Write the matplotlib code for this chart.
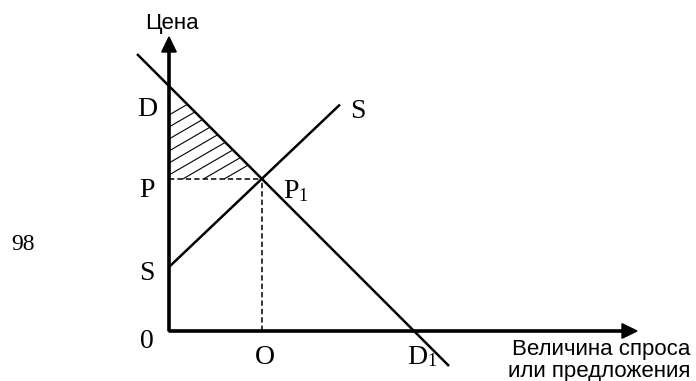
import numpy as np
import matplotlib
matplotlib.use("Agg")
import matplotlib.pyplot as plt

# demand: P = d_int + d_slope * Q ; supply: P = s_int + s_slope * Q
d_int, d_slope = 24.5, -1.0
s_int, s_slope = 6.4, 0.95
demand_q = [-3.2, 28.0]
supply_q = [0.0, 17.1]
x_axis_end = 46.8
y_axis_end = 29.4
# hatching inside the consumer surplus triangle
hatch_slope = 0.58
hatch_offsets = [21.6, 20.4, 19.2, 18.0, 16.8, 15.6, 14.4, 13.2, 12.0]

q_eq = (d_int - s_int) / (s_slope - d_slope)
p_eq = s_int + s_slope * q_eq
q_d1 = -d_int / d_slope

serif = "Liberation Serif"
sans = "Liberation Sans"

fig = plt.figure(figsize=(6.96, 3.81), dpi=100)
ax = fig.add_axes([0, 0, 1, 1])
ax.set_xlim(-16.9, 52.7)
ax.set_ylim(-5.0, 33.1)
ax.axis("off")

# axes with arrows
ax.arrow(0, 0, x_axis_end, 0, width=0.22, head_width=1.45, head_length=1.5,
         length_includes_head=True, color="black")
ax.arrow(0, 0, 0, y_axis_end, width=0.22, head_width=1.45, head_length=1.5,
         length_includes_head=True, color="black")

# curves
dq = np.array(demand_q)
ax.plot(dq, d_int + d_slope * dq, color="black", lw=1.8, solid_capstyle="butt")
sq = np.array(supply_q)
ax.plot(sq, s_int + s_slope * sq, color="black", lw=1.8, solid_capstyle="butt")

# dashed guides
ax.plot([0, q_eq], [p_eq, p_eq], color="black", lw=1.1, ls=(0, (3.5, 2)))
ax.plot([q_eq, q_eq], [0, p_eq], color="black", lw=1.1, ls=(0, (3.5, 2)))

# hatch lines
for b in hatch_offsets:
    q0 = max(0.0, (p_eq - b) / hatch_slope)
    q1 = (d_int - b) / (hatch_slope - d_slope)
    if q1 <= q0:
        continue
    qs = np.array([q0, q1])
    ax.plot(qs, b + hatch_slope * qs, color="black", lw=0.8)

# labels
lab = dict(family=serif, fontsize=20, ha="center", va="center")
sub = dict(family=serif, fontsize=13, ha="center", va="center")
ax.text(-2.2, d_int - 2.4, "D", **lab)
ax.text(-2.2, p_eq - 1.2, "P", **lab)
ax.text(-2.2, s_int - 0.6, "S", **lab)
ax.text(-2.2, -1.1, "0", **lab)
ax.text(q_eq + 0.3, -2.6, "O", **lab)
ax.text(q_d1 + 0.3, -2.6, "D", **lab)
ax.text(q_d1 + 1.75, -3.1, "1", **sub)
ax.text(q_eq + 2.9, p_eq - 1.3, "P", **lab)
ax.text(q_eq + 4.15, p_eq - 1.8, "1", **sub)
ax.text(supply_q[1] + 1.8, 21.9, "S", **lab)
ax.text(-14.6, 8.7, "98", family=serif, fontsize=17, ha="center", va="center")

ax.text(0.3, 30.7, "Цена", family=sans, fontsize=16, ha="center", va="center")
ax.text(52.1, -1.9, "Величина спроса", family=sans, fontsize=16,
        ha="right", va="center")
ax.text(52.1, -4.1, "или предложения", family=sans, fontsize=16,
        ha="right", va="center")

fig.savefig("out.png", dpi=100)
